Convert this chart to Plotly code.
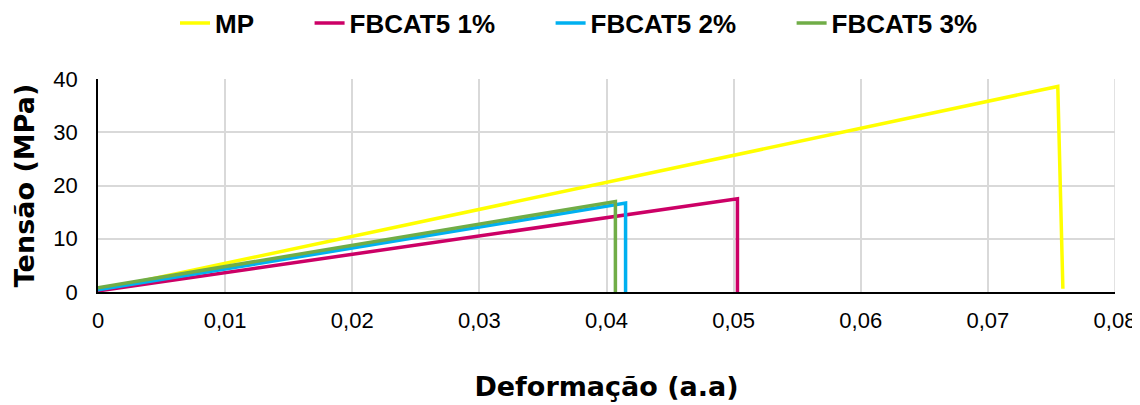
import plotly.graph_objects as go

# Data (strain in a.a, stress in MPa)
mp_x = [0.0, 0.0755, 0.0759]
mp_y = [0.3, 38.6, 0.6]
f1_x = [0.0, 0.0503, 0.0503]
f1_y = [0.2, 17.5, 0.0]
f2_x = [0.0, 0.0415, 0.0415]
f2_y = [0.4, 16.7, 0.0]
f3_x = [0.0, 0.0407, 0.0407]
f3_y = [0.8, 17.0, 0.0]

x_ticks = [0, 0.01, 0.02, 0.03, 0.04, 0.05, 0.06, 0.07, 0.08]
x_labels = ["0", "0,01", "0,02", "0,03", "0,04", "0,05", "0,06", "0,07", "0,08"]
y_ticks = [0, 10, 20, 30, 40]

series_names = ["MP", "FBCAT5 1%", "FBCAT5 2%", "FBCAT5 3%"]
series_x = [mp_x, f1_x, f2_x, f3_x]
series_y = [mp_y, f1_y, f2_y, f3_y]
series_colors = ["#FFFF00", "#CC0066", "#00B0F0", "#70AD47"]

PAD = "\u00a0" * 7  # spacing between legend entries

fig = go.Figure()
for name, xs, ys, col in zip(series_names, series_x, series_y, series_colors):
    fig.add_trace(go.Scatter(x=xs, y=ys, mode="lines", name="<b>" + name + "</b>" + PAD,
                             line=dict(color=col, width=3.5)))

W, H = 1132, 397  # page body has an 8px offset inside the 1140x405 window
fig.update_layout(
    width=W, height=H,
    margin=dict(l=90, r=25, t=71, b=113, autoexpand=False),
    paper_bgcolor="white", plot_bgcolor="white",
    font=dict(family="Liberation Sans, Arial, sans-serif", color="black", size=22),
    legend=dict(orientation="h", xref="container", x=167 / W, xanchor="left",
                yref="container", y=1 - 15 / H, yanchor="middle",
                font=dict(size=26, family="Liberation Sans, Arial, sans-serif"),
                tracegroupgap=0),
    showlegend=True,
)
fig.update_xaxes(range=[0, 0.08], tickmode="array", tickvals=x_ticks, ticktext=x_labels,
                 showgrid=True, gridcolor="#D9D9D9", gridwidth=1.5, automargin=False,
                 showline=True, linecolor="black", linewidth=1.5, zeroline=False,
                 ticks="", tickfont=dict(size=22), ticklabelstandoff=8,
                 title=dict(text="<b>Deformação (a.a)</b>",
                            font=dict(size=27, family="DejaVu Sans, sans-serif"), standoff=45))
fig.update_yaxes(range=[0, 40], tickmode="array", tickvals=y_ticks,
                 showgrid=True, gridcolor="#D9D9D9", gridwidth=1.5, automargin=False,
                 showline=True, linecolor="black", linewidth=1.5, zeroline=False,
                 ticks="", tickfont=dict(size=22), ticklabelstandoff=14,
                 title=dict(text="<b>Tensão (MPa)</b>",
                            font=dict(size=27, family="DejaVu Sans, sans-serif"), standoff=11))
# right border gridline (x=0.08)
fig.add_shape(type="line", xref="x", yref="paper", x0=0.08, x1=0.08, y0=0, y1=1,
              line=dict(color="#D9D9D9", width=1.5), layer="below")

fig.write_html("out.html")
